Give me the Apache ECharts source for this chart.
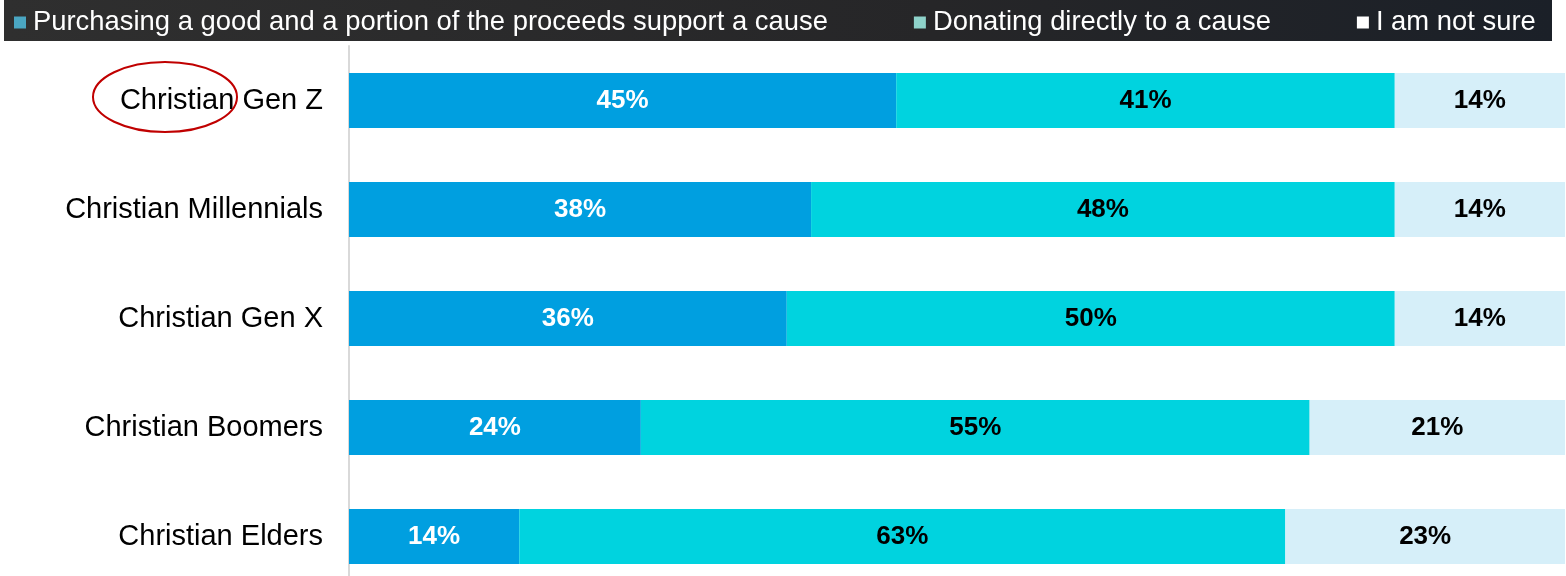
<!DOCTYPE html>
<html>
<head>
<meta charset="utf-8">
<script src="https://cdn.jsdelivr.net/npm/echarts@6/dist/echarts.min.js"></script>
<style>
  html, body { margin: 0; padding: 0; background: #ffffff; }
  #chart { width: 1566px; height: 576px; }
</style>
</head>
<body>
<div id="chart"></div>
<script>
// Generations (top to bottom)
const categories = ['Christian Gen Z', 'Christian Millennials', 'Christian Gen X', 'Christian Boomers', 'Christian Elders'];
const seriesNames = ['Purchasing a good and a portion of the proceeds support a cause', 'Donating directly to a cause', 'I am not sure'];
// Share of respondents (%)
const purchasing = [45, 38, 36, 24, 14];
const donating = [41, 48, 50, 55, 63];
const notSure = [14, 14, 14, 21, 23];

const barColors = ['#009fe0', '#00d3df', '#d6eff9'];
const legendColors = ['#4aa6c2', '#8ed2ca', '#ffffff'];
const labelColors = ['#ffffff', '#000000', '#000000'];
const values = [purchasing, donating, notSure];

const chart = echarts.init(document.getElementById('chart'), null, { renderer: 'canvas' });

const series = seriesNames.map((name, i) => ({
  name: name,
  type: 'bar',
  stack: 'total',
  barWidth: 55,
  data: values[i],
  itemStyle: { color: barColors[i] },
  label: {
    show: true,
    position: 'inside',
    formatter: '{c}%',
    color: labelColors[i],
    fontFamily: 'Liberation Sans, Arial, sans-serif',
    fontWeight: 'bold',
    fontSize: 26
  },
  emphasis: { disabled: true }
}));

chart.setOption({
  animation: false,
  backgroundColor: '#ffffff',
  graphic: [
    {
      type: 'rect',
      z: -1,
      shape: { x: 4, y: 0, width: 1548, height: 41 },
      style: {
        fill: new echarts.graphic.LinearGradient(0, 0, 1, 0, [
          { offset: 0, color: '#2f2f2f' },
          { offset: 0.6, color: '#262628' },
          { offset: 1, color: '#1b2028' }
        ])
      }
    },
    {
      type: 'ellipse',
      z: 10,
      shape: { cx: 165, cy: 97, rx: 72, ry: 35 },
      style: { fill: 'none', stroke: '#c00000', lineWidth: 2 }
    }
  ],
  legend: {
    top: 4,
    left: 9,
    itemWidth: 12,
    itemHeight: 12,
    itemGap: 86,
    icon: 'rect',
    textStyle: {
      color: '#ffffff',
      fontFamily: 'Liberation Sans, Arial, sans-serif',
      fontSize: 27.4,
      padding: [0, 0, 0, 2]
    },
    data: seriesNames.map((n, i) => ({ name: n, itemStyle: { color: legendColors[i] } }))
  },
  grid: { left: 349, right: 1, top: 46, height: 545, containLabel: false, outerBoundsMode: 'none' },
  xAxis: {
    type: 'value',
    min: 0,
    max: 100,
    show: false
  },
  yAxis: {
    type: 'category',
    inverse: true,
    data: categories,
    axisTick: { show: false },
    axisLine: { show: true, lineStyle: { color: '#d9d9d9', width: 2 } },
    axisLabel: {
      margin: 26,
      color: '#000000',
      fontFamily: 'Liberation Sans, Arial, sans-serif',
      fontSize: 29
    }
  },
  series: series
});
</script>
</body>
</html>
